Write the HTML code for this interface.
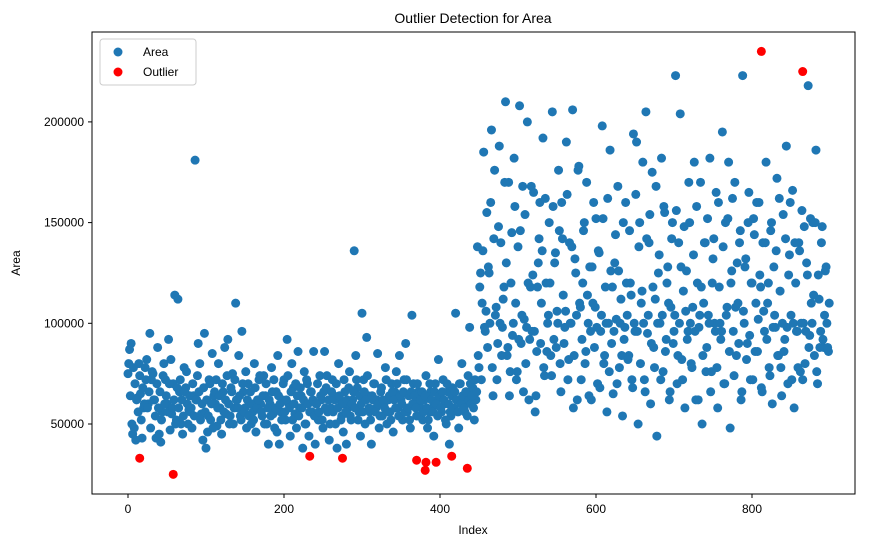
<!DOCTYPE html>
<html><head><meta charset="utf-8"><style>
body{margin:0;background:#fff;font-family:"Liberation Sans","DejaVu Sans",sans-serif}
svg text{font-family:"Liberation Sans","DejaVu Sans",sans-serif;fill:#000}
</style></head><body>
<svg id="chart" width="876" height="547" viewBox="0 0 876 547" xmlns="http://www.w3.org/2000/svg">
<rect width="876" height="547" fill="#fff"/>
<text x="473" y="23" font-size="14" text-anchor="middle">Outlier Detection for Area</text>
<g id="points"></g>
<rect x="92" y="32" width="763" height="462" fill="none" stroke="#000" stroke-width="1"/>
<g id="xticks"></g>
<g id="yticks"></g>
<text x="473" y="534" font-size="12" text-anchor="middle">Index</text>
<text x="20" y="263" font-size="12" text-anchor="middle" transform="rotate(-90 20 263)">Area</text>
<g>
<rect x="100" y="39" width="96" height="46" rx="3" fill="#fff" fill-opacity="0.8" stroke="#ccc"/>
<g><circle cx="118" cy="52" r="4.5" fill="#1f77b4"/><text x="143" y="56" font-size="12">Area</text></g>
<g><circle cx="118" cy="72" r="4.5" fill="#ff0000"/><text x="143" y="76" font-size="12">Outlier</text></g>
</g>
</svg>
<script>
const segAStart = 0;
const segAValues = [75,87,90,45,48,42,63,80,65,43,
58,78,82,60,95,72,75,62,43,88,
45,41,56,80,72,60,92,47,55,70,
114,52,112,66,50,45,78,68,60,57,
56,48,64,181,62,90,80,55,42,95,
38,46,72,52,85,64,60,49,80,58,
45,66,88,55,92,50,68,75,58,110,
62,84,54,96,66,58,48,70,60,50,
56,80,46,62,72,60,54,74,64,50,
40,60,78,55,48,66,84,40,56,62,
72,52,92,60,44,80,68,55,48,86,
58,64,38,76,50,70,44,66,56,86,
40,60,52,74,62,48,86,68,56,42,
58,72,64,50,38,80,62,54,46,66,
40,58,76,52,62,136,84,68,56,44,
105,72,50,93,64,56,40,62,70,58,
85,48,66,54,60,78,50,62,56,70,
46,66,76,58,84,62,52,72,90,56,
64,48,104,70,60,54,66,66,58,52,
62,74,48,56,66,58,44,70,62,82,
64,56,72,60,50,66,40,54,68,58,
105,62,48,70,80,60,56,66,74,98];
const segA2Start = 1;
const segA2Values = [80,64,50,78,70,62,56,74,52,68,
60,72,58,66,48,76,62,54,70,58,
66,52,74,60,64,56,70,82,58,62,
50,68,58,72,62,54,66,76,50,64,
58,70,54,62,74,66,52,60,68,56,
62,54,70,60,48,66,72,58,64,52,
70,56,62,74,60,54,66,50,72,62,
58,64,52,70,56,76,62,54,66,60,
52,68,58,62,74,56,64,50,70,58,
62,54,66,72,58,46,64,60,52,70,
56,62,74,58,66,52,60,70,64,54,
68,58,62,50,72,60,56,66,62,54,
60,70,56,64,52,66,58,74,62,50,
66,56,62,70,58,64,52,60,72,56,
62,68,54,60,66,58,72,52,64,60,
56,66,62,74,58,52,64,70,56,62,
60,54,68,62,58,72,56,64,52,66,
62,58,70,54,64,60,66,56,72,58,
52,66,60,64,58,70,54,62,66,56,
64,58,52,70,62,56,66,60,54,64,
58,66,62,52,70,60,56,64,58,66,
62,56,70,60,64,58,66,54,62,70];
const segBStart = 440;
const segBValues = [60,68,52,62,138,78,125,110,185,96,
155,128,100,196,64,176,108,90,188,140,
98,118,210,84,170,76,145,100,158,72,
138,208,90,168,102,80,200,62,118,96,
165,56,86,130,160,110,192,74,120,100,
150,84,205,92,135,106,176,80,160,114,
98,190,72,140,100,206,84,125,62,178,
108,92,146,80,170,100,128,62,110,88,
152,70,135,96,198,80,118,56,100,186,
90,65,130,102,168,78,112,54,92,160,
104,84,120,72,194,96,190,50,150,110,
180,72,205,95,140,60,175,88,112,44,
125,100,182,76,155,92,128,62,108,150,
96,223,70,140,204,82,116,58,126,96,
150,80,108,180,62,120,98,170,50,110,
140,88,104,182,76,132,100,165,58,118,
92,195,70,150,108,180,48,126,96,170,
84,110,140,62,223,100,132,90,165,72,
120,152,86,160,102,124,68,140,96,180,
110,78,146,60,128,98,172,84,116,64,
154,92,188,70,134,104,166,58,120,96,
140,76,156,100,80,130,218,94,110,150,
84,186,70,112,96,148,88,126,100,86];
const segB2Start = 441;
const segB2Values = [64,58,72,66,84,118,72,136,98,106,
88,125,160,78,142,104,72,148,100,84,
112,170,130,88,64,120,94,182,110,76,
92,146,104,66,154,98,120,92,168,124,
96,64,118,142,90,136,78,162,86,104,
120,74,158,130,88,100,146,66,142,90,
106,164,82,100,138,58,132,104,176,110,
72,120,150,86,114,64,96,128,160,108,
98,136,68,104,152,84,100,162,76,126,
118,96,144,70,126,100,84,150,98,120,
82,146,114,68,100,164,96,138,80,116,
100,66,142,104,154,90,118,78,168,100,
134,72,104,158,86,120,110,66,142,90,
104,156,84,100,128,72,148,106,92,170,
100,78,134,96,158,62,104,118,84,140,
76,152,100,66,120,142,96,78,160,100,
96,138,70,104,152,86,120,162,74,108,
130,90,146,66,106,128,82,150,94,120,
72,144,110,86,160,118,66,106,140,92,
120,74,150,98,104,136,84,162,78,100,
86,142,98,124,160,72,100,140,96,78,
136,100,72,148,96,124,88,152,100,114,
150,76,124,88,140,92,104,128,88,110];
const segStep = 2;
const outlierIdx = [15,58,233,275,370,381,382,395,415,435,812,865];
const outlierVals = [33,25,34,33,32,27,31,31,34,28,235,225];
const xTicks = [0,200,400,600,800];
const yTicks = [50000,100000,150000,200000];

const NS="http://www.w3.org/2000/svg";
function xs(i){return 128 + i*0.78;}
function ys(v){return 424 - (v-50000)*0.002014;}
const pts=document.getElementById('points');
function dot(i,vk,color,name){
  const c=document.createElementNS(NS,'circle');
  c.setAttribute('cx',xs(i));c.setAttribute('cy',ys(vk*1000));c.setAttribute('r',4.5);c.setAttribute('fill',color);
  
  
  pts.appendChild(c);
}
segAValues.forEach((v,k)=>dot(segAStart+k*segStep,v,'#1f77b4','area-point'));
segA2Values.forEach((v,k)=>dot(segA2Start+k*segStep,v,'#1f77b4','area-point'));
segBValues.forEach((v,k)=>dot(segBStart+k*segStep,v,'#1f77b4','area-point'));
segB2Values.forEach((v,k)=>dot(segB2Start+k*segStep,v,'#1f77b4','area-point'));
outlierIdx.forEach((i,k)=>dot(i,outlierVals[k],'#ff0000','outlier-point'));

const xg=document.getElementById('xticks');
xTicks.forEach(t=>{
  const l=document.createElementNS(NS,'line');
  l.setAttribute('x1',xs(t));l.setAttribute('x2',xs(t));l.setAttribute('y1',494);l.setAttribute('y2',498);l.setAttribute('stroke','#000');
  
  
  xg.appendChild(l);
  const tx=document.createElementNS(NS,'text');
  tx.setAttribute('x',xs(t));tx.setAttribute('y',513);tx.setAttribute('font-size','12');tx.setAttribute('text-anchor','middle');
  tx.textContent=t;
  
  
  xg.appendChild(tx);
});
const yg=document.getElementById('yticks');
yTicks.forEach(t=>{
  const l=document.createElementNS(NS,'line');
  l.setAttribute('x1',88);l.setAttribute('x2',92);l.setAttribute('y1',ys(t));l.setAttribute('y2',ys(t));l.setAttribute('stroke','#000');
  
  
  yg.appendChild(l);
  const tx=document.createElementNS(NS,'text');
  tx.setAttribute('x',84);tx.setAttribute('y',ys(t)+4);tx.setAttribute('font-size','12');tx.setAttribute('text-anchor','end');
  tx.textContent=t;
  
  
  yg.appendChild(tx);
});
</script>
</body></html>
